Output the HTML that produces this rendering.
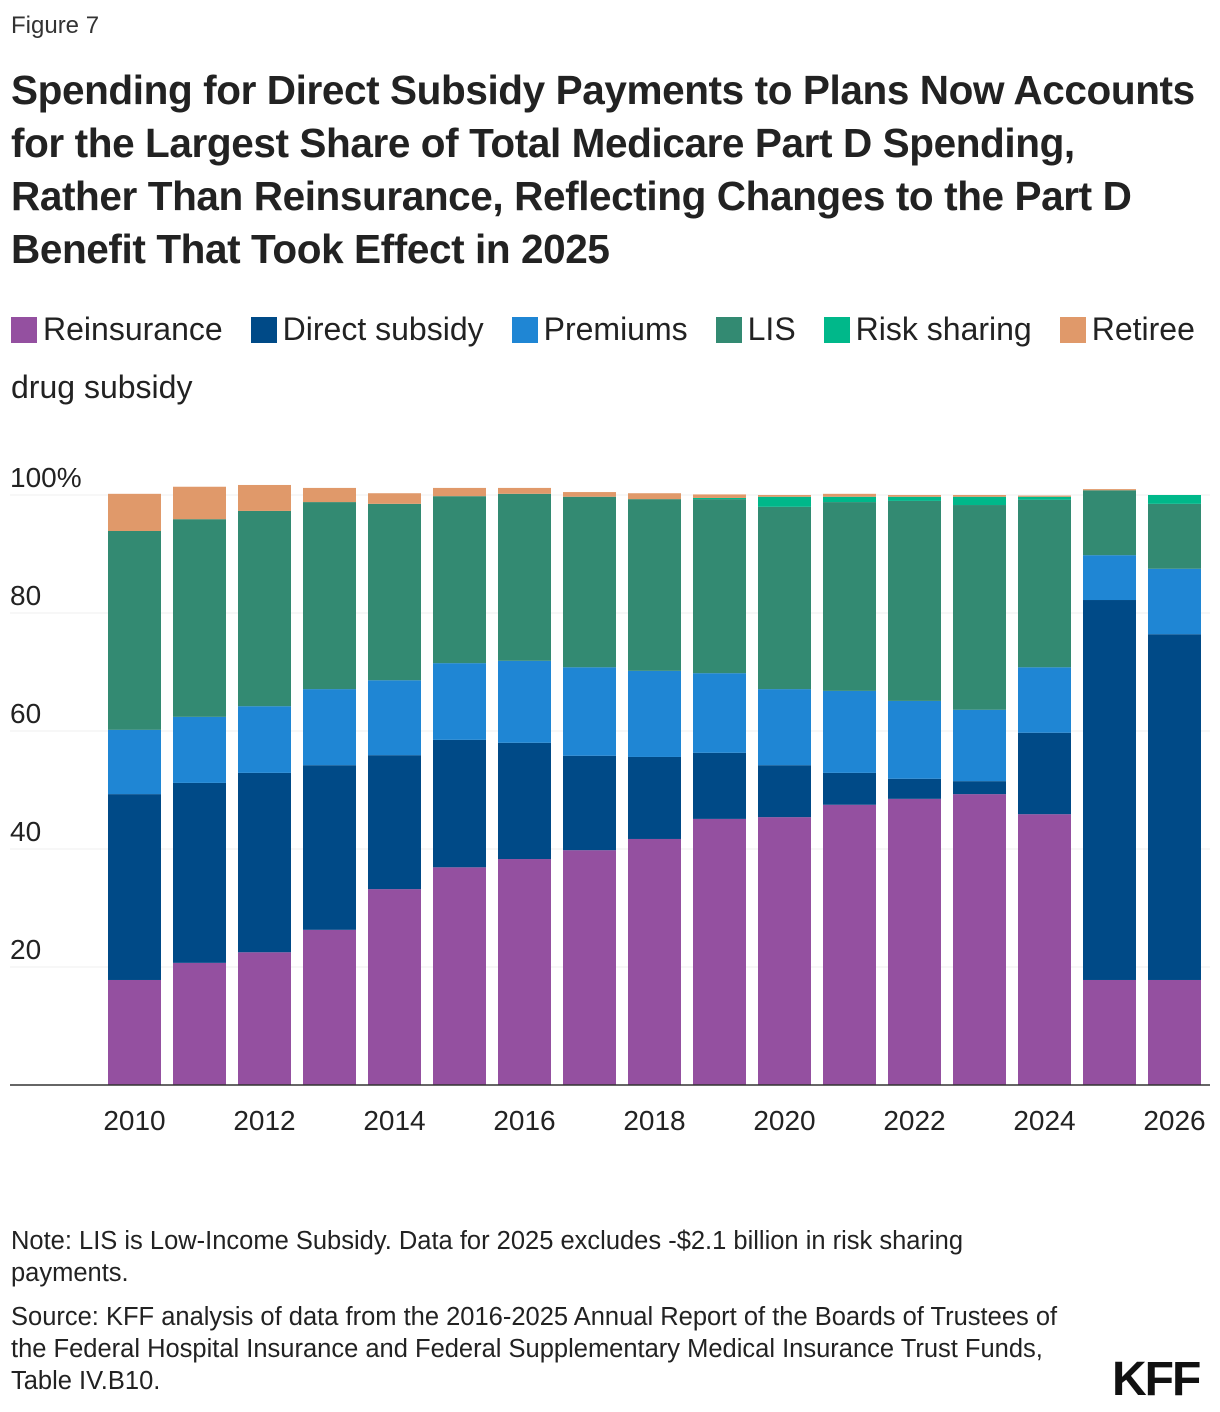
<!DOCTYPE html>
<html><head><meta charset="utf-8">
<style>
body{margin:0;width:1220px;height:1412px;background:#fff;font-family:"Liberation Sans",sans-serif;color:#222;position:relative;overflow:hidden}
.abs{position:absolute}
#fig{left:11px;top:12px;font-size:24px;color:#333}
#title{left:11px;top:64px;width:1210px;font-size:40.5px;font-weight:bold;line-height:53px;color:#222;letter-spacing:-0.4px;white-space:nowrap}
#legend{left:11px;top:300px;width:1210px;font-size:32px;line-height:58px;color:#222;white-space:nowrap}
.li{display:inline;margin-right:28px}
.sw{display:inline-block;width:26px;height:26px;vertical-align:-3px;margin-right:6px}
#note{left:11px;top:1225px;font-size:25.5px;line-height:32px;color:#222;width:1100px;white-space:nowrap}
#logo{left:1112px;top:1352px;font-size:48px;font-weight:bold;color:#111;letter-spacing:-2px}
</style></head><body>
<div class="abs" id="fig">Figure 7</div>
<div class="abs" id="title">Spending for Direct Subsidy Payments to Plans Now Accounts<br>for the Largest Share of Total Medicare Part D Spending,<br>Rather Than Reinsurance, Reflecting Changes to the Part D<br>Benefit That Took Effect in 2025</div>
<div class="abs" id="legend"><span class="li"><span class="sw" style="background:#9450a0"></span>Reinsurance</span><span class="li"><span class="sw" style="background:#004a87"></span>Direct subsidy</span><span class="li"><span class="sw" style="background:#1f86d4"></span>Premiums</span><span class="li"><span class="sw" style="background:#338a72"></span>LIS</span><span class="li"><span class="sw" style="background:#00b88a"></span>Risk sharing</span><span class="li"><span class="sw" style="background:#e0996a"></span>Retiree<br>drug subsidy</span></div>
<svg class="abs" style="left:0;top:0" width="1220" height="1412" id="chart"></svg>
<div class="abs" id="note">Note: LIS is Low-Income Subsidy. Data for 2025 excludes -$2.1 billion in risk sharing<br>payments.<div style="margin-top:12px">Source: KFF analysis of data from the 2016-2025 Annual Report of the Boards of Trustees of<br>the Federal Hospital Insurance and Federal Supplementary Medical Insurance Trust Funds,<br>Table IV.B10.</div></div>
<div class="abs" id="logo">KFF</div>
<script>
const years=[2010,2011,2012,2013,2014,2015,2016,2017,2018,2019,2020,2021,2022,2023,2024,2025,2026];
const reinsurance=[17.8,20.7,22.5,26.3,33.2,36.9,38.3,39.8,41.7,45.1,45.4,47.5,48.5,49.3,45.9,17.8,17.8];
const directSubsidy=[31.5,30.5,30.4,27.9,22.7,21.6,19.7,16.0,13.9,11.2,8.8,5.4,3.4,2.2,13.8,64.4,58.6];
const premiums=[10.9,11.2,11.3,12.9,12.7,13.0,13.9,15.0,14.6,13.5,12.9,13.9,13.2,12.1,11.1,7.6,11.1];
const lis=[33.7,33.5,33.1,31.7,29.9,28.3,28.3,28.9,29.1,29.5,30.9,32.0,33.9,34.7,28.4,11.0,11.0];
const riskSharing=[0,0,0,0,0,0,0,0,0,0.2,1.7,0.9,0.7,1.4,0.5,0,1.5];
const retiree=[6.3,5.5,4.4,2.4,1.8,1.4,1.0,0.8,1.0,0.6,0.3,0.5,0.3,0.3,0.2,0.2,0];
const yTicks=[20,40,60,80,100];
const NS="http://www.w3.org/2000/svg";
const svg=document.getElementById('chart');
const y=v=>1085-v*5.9;
const x=i=>108+i*65;
const bw=53;
function mk(t,a){const e=document.createElementNS(NS,t);for(const k in a)e.setAttribute(k,a[k]);svg.appendChild(e);return e;}
yTicks.forEach(t=>{
 const l=mk('line',{x1:10,x2:1210,y1:y(t),y2:y(t),stroke:'#efefef','stroke-width':1});
 
 
 const tx=mk('text',{x:10,y:y(t)-8,'font-size':28,fill:'#222','font-family':'Liberation Sans,sans-serif'});
 tx.textContent=t===100?'100%':t;
 
 
});
const series=[['reinsurance',reinsurance,'#9450a0'],['direct-subsidy',directSubsidy,'#004a87'],['premiums',premiums,'#1f86d4'],['lis',lis,'#338a72'],['risk-sharing',riskSharing,'#00b88a'],['retiree-drug-subsidy',retiree,'#e0996a']];
years.forEach((yr,i)=>{
 let base=0;
 series.forEach(([n,arr,c])=>{
  const v=arr[i];
  if(v>0){
   const r=mk('rect',{x:x(i),y:y(base+v),width:bw,height:v*5.9,fill:c});
   
   
  }
  base+=v;
 });
 if(yr%2===0){
  const t=mk('text',{x:x(i)+bw/2,y:1130,'font-size':28,fill:'#222','text-anchor':'middle','font-family':'Liberation Sans,sans-serif'});
  t.textContent=yr;
  
  
 }
});
const ax=mk('line',{x1:10,x2:1210,y1:1085,y2:1085,stroke:'#333','stroke-width':1.5});


</script>
</body></html>
